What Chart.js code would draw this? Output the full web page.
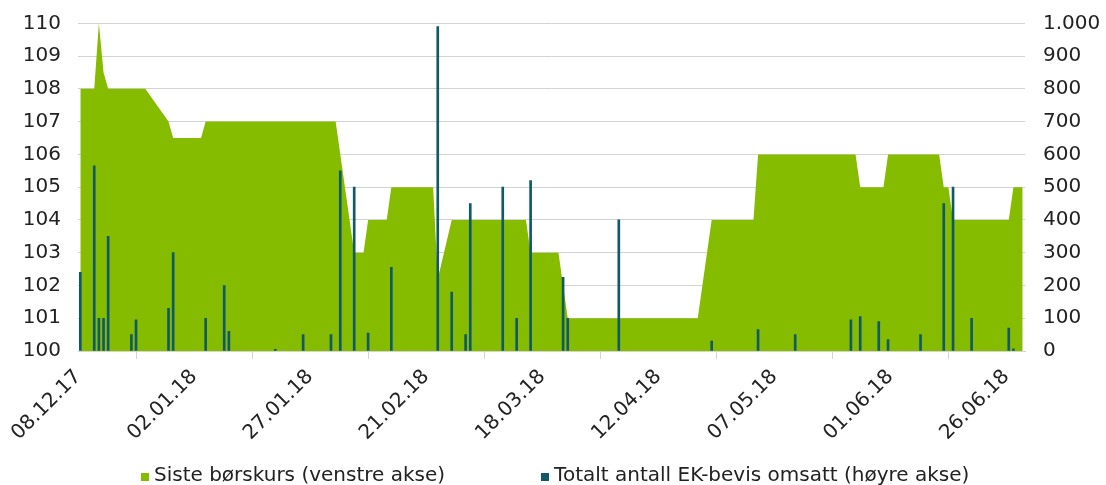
<!DOCTYPE html>
<html>
<head>
<meta charset="utf-8">
<script src="https://cdn.jsdelivr.net/npm/chart.js@4/dist/chart.umd.min.js"></script>
<style>
  html, body { margin: 0; padding: 0; background: #ffffff; }
  #wrap { position: relative; width: 1106px; height: 485px; }
  #legend { position: absolute; left: 141px; top: 462px; display: flex; align-items: center;
            font-family: "DejaVu Sans", sans-serif; font-size: 20px; color: #222; white-space: nowrap; }
  .item { display: flex; align-items: center; }
  .box { width: 8px; height: 8px; margin-right: 5px; margin-top: 5px; }
</style>
</head>
<body>
<div id="wrap">
  <canvas id="c" width="1106" height="485"></canvas>
  <div id="legend"></div>
</div>
<script>
// ---- Data ----
const startDate = '2017-12-08';
const endDate = '2018-06-29';

const priceLabel = 'Siste børskurs (venstre akse)';
const priceDates = ['2017-12-08','2017-12-11','2017-12-12','2017-12-13','2017-12-14','2017-12-22','2017-12-27','2017-12-28',
  '2018-01-03','2018-01-04','2018-02-01','2018-02-05','2018-02-07','2018-02-08','2018-02-12','2018-02-13','2018-02-22',
  '2018-02-23','2018-02-26','2018-03-14','2018-03-15','2018-03-21','2018-03-23','2018-04-20','2018-04-23','2018-05-02',
  '2018-05-03','2018-05-24','2018-05-25','2018-05-30','2018-05-31','2018-06-11','2018-06-12','2018-06-13','2018-06-14',
  '2018-06-26','2018-06-27','2018-06-29'];
const priceValues = [108,108,110,108.5,108,108,107,106.5,
  106.5,107,107,103,103,104,104,105,105,
  102.2,104,104,103,103,101,101,104,104,
  106,106,105,105,106,106,105,105,104,
  104,105,105];

const volumeLabel = 'Totalt antall EK-bevis omsatt (høyre akse)';
const volumeDates = ['2017-12-08','2017-12-11','2017-12-12','2017-12-13','2017-12-14','2017-12-19','2017-12-20','2017-12-27',
  '2017-12-28','2018-01-04','2018-01-08','2018-01-09','2018-01-19','2018-01-25','2018-01-31','2018-02-02','2018-02-05',
  '2018-02-08','2018-02-13','2018-02-23','2018-02-26','2018-03-01','2018-03-02','2018-03-09','2018-03-12','2018-03-15',
  '2018-03-22','2018-03-23','2018-04-03','2018-04-23','2018-05-03','2018-05-11','2018-05-23','2018-05-25','2018-05-29',
  '2018-05-31','2018-06-07','2018-06-12','2018-06-14','2018-06-18','2018-06-26','2018-06-27'];
const volumeValues = [240,565,100,100,350,50,95,130,
  300,100,200,60,5,50,50,550,500,
  55,255,990,180,50,450,500,100,520,
  225,100,400,30,65,50,95,105,90,
  35,50,450,500,100,70,7];

const xTickLabels = ['08.12.17','02.01.18','27.01.18','21.02.18','18.03.18','12.04.18','07.05.18','01.06.18','26.06.18'];

const leftMin = 100, leftMax = 110, leftStep = 1;
const rightMin = 0, rightMax = 1000, rightStep = 100;

const colors = { price: '#86bc00', volume: '#0f5a66', grid: '#d3d3d3', text: '#222222' };

// ---- Helpers ----
const DAY = 86400000;
const t0 = Date.parse(startDate);
const dayIndex = s => Math.round((Date.parse(s) - t0) / DAY);
const labelToIso = l => { const [d, m, y] = l.split('.'); return '20' + y + '-' + m + '-' + d; };
const lastDay = dayIndex(endDate);
const xTickValues = xTickLabels.map(l => dayIndex(labelToIso(l)) - 0.5);

const priceData = priceDates.map((d, i) => ({ x: dayIndex(d), y: priceValues[i] }));
const volumeData = volumeDates.map((d, i) => ({ x: dayIndex(d), y: volumeValues[i] }));

const font = { family: '"DejaVu Sans", sans-serif', size: 20 };

new Chart(document.getElementById('c'), {
  data: {
    datasets: [
      { type: 'bar', label: volumeLabel, data: volumeData, yAxisID: 'y1', xAxisID: 'x',
        backgroundColor: colors.volume, borderWidth: 0, barThickness: 2, order: 0 },
      { type: 'line', label: priceLabel, data: priceData, yAxisID: 'y', xAxisID: 'x',
        backgroundColor: colors.price, borderColor: colors.price, borderWidth: 0,
        pointRadius: 0, tension: 0, fill: 'start', order: 1 }
    ]
  },
  options: {
    responsive: false,
    animation: false,
    devicePixelRatio: 1,
    layout: { padding: { top: 23.3, left: 0, right: 0, bottom: 0 } },
    plugins: { legend: { display: false }, tooltip: { enabled: false } },
    scales: {
      x: {
        type: 'linear', offset: false,
        min: -0.5, max: lastDay + 0.5,
        afterBuildTicks: s => { s.ticks = xTickValues.map(v => ({ value: v })); },
        afterFit: s => { s.height = 134; },
        ticks: { autoSkip: false, maxRotation: 45, minRotation: 45, padding: 6, font, color: colors.text,
                 callback: (v, i) => xTickLabels[i] },
        grid: { display: true, drawOnChartArea: false, drawTicks: true, tickLength: 8, color: colors.grid, lineWidth: 1 },
        border: { display: true, color: colors.grid, width: 1 }
      },
      y: {
        type: 'linear', position: 'left', min: leftMin, max: leftMax,
        afterFit: s => { s.width = 78; s.paddingTop = 0; s.paddingBottom = 0; },
        ticks: { stepSize: leftStep, padding: 17, font, color: colors.text },
        grid: { drawTicks: false, color: colors.grid, lineWidth: 1 },
        border: { display: false }
      },
      y1: {
        type: 'linear', position: 'right', min: rightMin, max: rightMax,
        afterFit: s => { s.width = 81; s.paddingTop = 0; s.paddingBottom = 0; },
        ticks: { stepSize: rightStep, padding: 18, font, color: colors.text,
                 callback: v => v.toLocaleString('de-DE') },
        grid: { drawOnChartArea: false, drawTicks: false },
        border: { display: false }
      }
    }
  }
});

// HTML legend
const legend = document.getElementById('legend');
[[priceLabel, colors.price], [volumeLabel, colors.volume]].forEach(([txt, col], i) => {
  const it = document.createElement('div');
  it.className = 'item';
  if (i > 0) it.style.marginLeft = '96px';
  const b = document.createElement('span');
  b.className = 'box';
  b.style.background = col;
  const t = document.createElement('span');
  t.textContent = txt;
  it.appendChild(b); it.appendChild(t);
  legend.appendChild(it);
});
</script>
</body>
</html>
